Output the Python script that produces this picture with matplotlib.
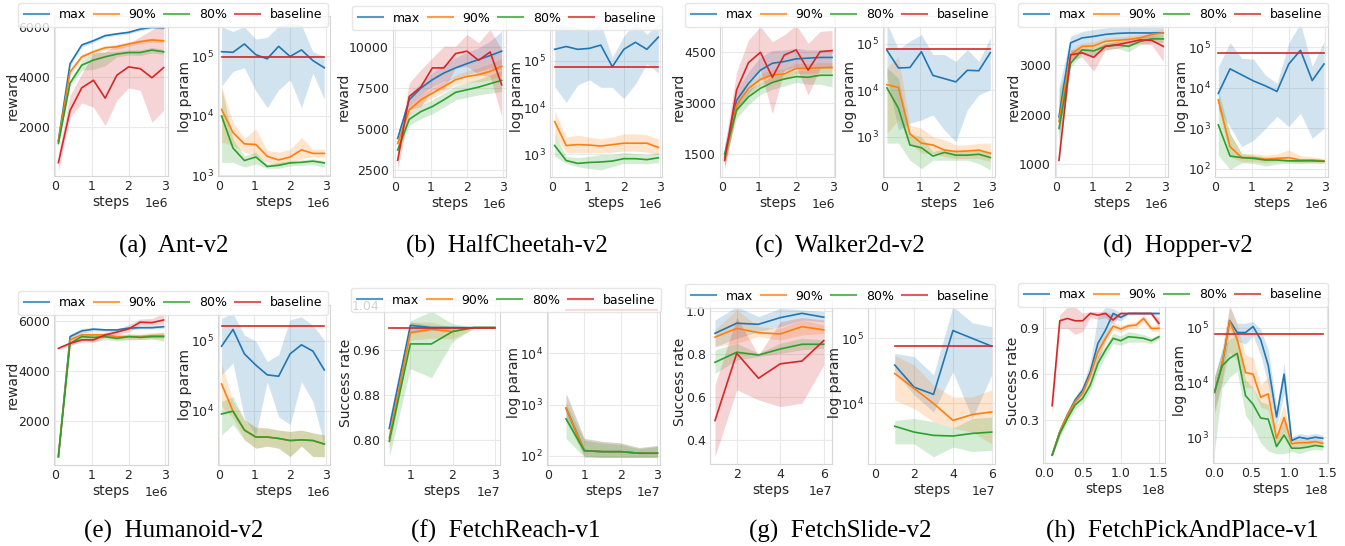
import matplotlib
matplotlib.use("Agg")
import matplotlib.pyplot as plt
import numpy as np
from matplotlib.ticker import NullLocator, FixedLocator

# ---------------- DATA ----------------
LABELS = ["max", "90%", "80%", "baseline"]
CAPTIONS = ["(a)  Ant-v2", "(b)  HalfCheetah-v2", "(c)  Walker2d-v2", "(d)  Hopper-v2",
            "(e)  Humanoid-v2", "(f)  FetchReach-v1", "(g)  FetchSlide-v2", "(h)  FetchPickAndPlace-v1"]

MUJOCO_X = [0.08, 0.40, 0.72, 1.04, 1.36, 1.68, 2.00, 2.32, 2.64, 2.96]   # x 1e6
REACH_X = [0.5, 1.0, 1.5, 2.0, 2.5, 3.0]                                 # x 1e7
SLIDE_X = [1, 2, 3, 4, 5, 6]                                             # x 1e7
PICK_X_REW = [0.1, 0.2, 0.3, 0.4, 0.5, 0.6, 0.7, 0.8, 0.9, 1.0, 1.1, 1.2, 1.3, 1.4, 1.5]  # x 1e8
PICK_X_PAR = [0.01, 0.11, 0.21, 0.31, 0.42, 0.52, 0.62, 0.72, 0.83, 0.93, 1.03, 1.13, 1.24, 1.34, 1.44]

# each series: [mean, lower, upper]; "par" series are log10(parameters)
ant_rew_max = [[1470, 4530, 5270, 5440, 5640, 5710, 5770, 5900, 5970, 5950],
               [1390, 4430, 5190, 5370, 5580, 5650, 5710, 5840, 5920, 5900],
               [1550, 4630, 5350, 5510, 5700, 5770, 5830, 5960, 6020, 6000]]
ant_rew_90 = [[1450, 4200, 4800, 5000, 5160, 5200, 5310, 5400, 5470, 5430],
              [1370, 4100, 4700, 4900, 5080, 5100, 5220, 5320, 5380, 5350],
              [1530, 4300, 4900, 5100, 5240, 5300, 5400, 5480, 5550, 5510]]
ant_rew_80 = [[1360, 3760, 4470, 4670, 4800, 4910, 4970, 4970, 5070, 5000],
              [1280, 3650, 4270, 4300, 4450, 4800, 4870, 4850, 4950, 4900],
              [1440, 3870, 4650, 4950, 5000, 5020, 5070, 5080, 5170, 5100]]
ant_rew_base = [[600, 2670, 3570, 3870, 3160, 4070, 4400, 4330, 3970, 4370],
                [270, 2400, 2970, 2800, 2070, 3070, 3570, 3470, 2200, 2670],
                [930, 3270, 4130, 4930, 5000, 5270, 5330, 5600, 5870, 6130]]
ant_par_max = [[5.08, 5.07, 5.21, 5.03, 4.96, 5.17, 5.00, 5.11, 4.93, 4.81],
               [4.50, 4.75, 4.81, 4.42, 4.14, 4.44, 4.61, 4.14, 4.72, 4.28],
               [5.50, 5.42, 5.50, 5.29, 5.32, 5.51, 5.56, 5.53, 5.08, 5.00]]
ant_par_90 = [[4.11, 3.72, 3.53, 3.52, 3.32, 3.26, 3.31, 3.43, 3.37, 3.37],
              [3.56, 3.50, 3.39, 3.33, 3.22, 3.17, 3.22, 3.28, 3.31, 3.31],
              [4.50, 3.89, 3.62, 3.78, 3.42, 3.39, 3.44, 3.64, 3.44, 3.44]]
ant_par_80 = [[4.00, 3.46, 3.25, 3.31, 3.15, 3.17, 3.21, 3.22, 3.24, 3.21],
              [3.22, 3.22, 3.14, 3.19, 3.12, 3.12, 3.16, 3.17, 3.18, 3.14],
              [4.47, 3.61, 3.33, 3.39, 3.19, 3.22, 3.25, 3.26, 3.28, 3.25]]
ant_par_base = 4.99

hc_rew_max = [[4450, 6800, 7510, 8020, 8430, 8740, 9000, 9250, 9490, 9760],
              [4140, 6430, 7100, 7610, 7920, 8120, 8330, 8530, 8740, 8630],
              [4760, 7100, 7820, 8430, 8940, 9350, 9690, 9960, 10370, 10980]]
hc_rew_90 = [[4140, 6180, 6800, 7200, 7610, 8020, 8220, 8330, 8530, 8840],
             [3900, 5900, 6500, 6900, 7300, 7700, 7850, 7900, 8000, 8300],
             [4400, 6450, 7100, 7500, 7900, 8300, 8550, 8750, 9000, 9300]]
hc_rew_80 = [[3740, 5610, 6080, 6390, 6800, 7250, 7410, 7570, 7780, 7980],
             [3450, 5250, 5650, 5950, 6350, 6800, 6950, 7100, 7200, 7300],
             [4000, 5950, 6500, 6800, 7200, 7650, 7850, 8050, 8300, 8600]]
hc_rew_base = [[3120, 7000, 7570, 8740, 8740, 9610, 9760, 9200, 9710, 7710],
               [2500, 6180, 6390, 7410, 7410, 8740, 8840, 8330, 8220, 5780],
               [3940, 7820, 8630, 9350, 10060, 10060, 10780, 10270, 11080, 9860]]
hc_par_max = [[5.24, 5.30, 5.24, 5.26, 5.33, 4.87, 5.24, 5.39, 5.24, 5.50],
              [4.44, 4.11, 4.48, 4.59, 4.43, 4.43, 4.19, 4.50, 4.93, 4.74],
              [5.78, 5.74, 5.70, 5.63, 5.78, 5.07, 5.52, 5.81, 5.56, 5.78]]
hc_par_90 = [[3.70, 3.19, 3.21, 3.20, 3.18, 3.21, 3.24, 3.24, 3.24, 3.15],
             [3.41, 3.04, 3.04, 3.04, 3.04, 3.05, 3.07, 3.07, 3.05, 3.00],
             [3.93, 3.37, 3.41, 3.37, 3.33, 3.37, 3.44, 3.44, 3.42, 3.33]]
hc_par_80 = [[3.19, 2.87, 2.81, 2.83, 2.84, 2.86, 2.91, 2.91, 2.89, 2.93],
             [2.96, 2.81, 2.74, 2.70, 2.67, 2.74, 2.81, 2.81, 2.80, 2.83],
             [3.44, 2.96, 2.93, 2.96, 3.00, 3.00, 3.04, 3.02, 3.00, 3.04]]
hc_par_base = 4.87

wk_rew_max = [[1420, 3080, 3570, 3960, 4160, 4210, 4290, 4310, 4330, 4330],
              [1130, 2790, 3280, 3670, 3870, 3910, 4010, 4010, 4060, 4060],
              [1810, 3380, 3910, 4350, 4530, 4550, 4600, 4550, 4550, 4550]]
wk_rew_90 = [[1370, 2940, 3430, 3690, 3820, 3850, 4010, 4010, 4030, 4030],
             [1150, 2750, 3250, 3520, 3650, 3700, 3860, 3870, 3880, 3880],
             [1600, 3130, 3600, 3850, 3980, 4000, 4160, 4150, 4180, 4180]]
wk_rew_80 = [[1520, 2790, 3180, 3430, 3600, 3700, 3770, 3750, 3810, 3810],
             [1300, 2550, 2950, 3250, 3400, 3500, 3600, 3550, 3550, 3470],
             [1750, 3000, 3400, 3600, 3780, 3880, 3950, 3950, 4050, 4100]]
wk_rew_base = [[1320, 3380, 4180, 4480, 3750, 4400, 4550, 3960, 4500, 4530],
               [1080, 2790, 3670, 3960, 2690, 3960, 4060, 3230, 4010, 4060],
               [1720, 3910, 4840, 5230, 4790, 4990, 5280, 4740, 5090, 5120]]
wk_par_max = [[4.86, 4.48, 4.49, 4.83, 4.32, 4.25, 4.18, 4.43, 4.42, 4.81],
              [4.30, 3.14, 3.29, 3.36, 3.47, 3.14, 2.89, 3.58, 3.90, 4.01],
              [5.45, 4.88, 5.06, 5.20, 4.77, 4.77, 4.62, 4.88, 4.62, 5.13]]
wk_par_90 = [[4.12, 4.06, 3.06, 2.86, 2.82, 2.71, 2.68, 2.69, 2.71, 2.64],
             [3.07, 3.36, 2.86, 2.64, 2.64, 2.57, 2.53, 2.53, 2.53, 2.46],
             [4.48, 4.73, 3.25, 3.18, 3.00, 2.93, 2.82, 2.82, 2.86, 2.86]]
wk_par_80 = [[4.05, 3.61, 2.82, 2.76, 2.58, 2.66, 2.60, 2.60, 2.62, 2.55],
             [2.86, 2.86, 2.49, 2.31, 2.49, 2.49, 2.49, 2.49, 2.42, 2.28],
             [4.48, 4.26, 3.07, 3.00, 2.68, 2.75, 2.68, 2.68, 2.71, 2.68]]
wk_par_base = 4.88

hp_rew_max = [[1950, 3440, 3540, 3570, 3610, 3630, 3640, 3640, 3640, 3640],
              [1490, 3170, 3370, 3400, 3470, 3500, 3500, 3540, 3570, 3570],
              [2560, 3570, 3670, 3710, 3740, 3770, 3790, 3790, 3810, 3810]]
hp_rew_90 = [[1860, 3200, 3370, 3380, 3470, 3490, 3510, 3540, 3610, 3640],
             [1600, 3100, 3300, 3300, 3400, 3420, 3440, 3470, 3530, 3560],
             [2300, 3300, 3440, 3460, 3540, 3560, 3580, 3610, 3680, 3720]]
hp_rew_80 = [[1720, 3030, 3300, 3280, 3370, 3400, 3370, 3470, 3520, 3520],
             [1250, 2950, 3220, 3180, 3300, 3330, 3260, 3400, 3440, 3440],
             [2500, 3150, 3380, 3380, 3440, 3470, 3450, 3540, 3600, 3600]]
hp_rew_base = [[1080, 3200, 3240, 3150, 3370, 3400, 3450, 3500, 3490, 3370],
               [1000, 3100, 3150, 2870, 3300, 3330, 3380, 3430, 3400, 3070],
               [1200, 3300, 3330, 3300, 3440, 3470, 3520, 3580, 3580, 3550]]
hp_par_max = [[3.86, 4.47, 4.32, 4.17, 4.05, 3.91, 4.59, 4.93, 4.18, 4.59],
              [3.45, 3.04, 2.54, 2.70, 2.99, 3.29, 3.04, 3.37, 2.75, 2.99],
              [4.53, 5.12, 4.73, 4.71, 4.32, 4.11, 5.11, 5.60, 4.53, 5.15]]
hp_par_90 = [[3.70, 2.54, 2.27, 2.27, 2.23, 2.25, 2.27, 2.21, 2.21, 2.19],
             [3.53, 2.29, 2.17, 2.17, 2.14, 2.17, 2.17, 2.13, 2.14, 2.13],
             [3.78, 2.87, 2.37, 2.37, 2.33, 2.36, 2.46, 2.32, 2.29, 2.25]]
hp_par_80 = [[3.08, 2.31, 2.27, 2.25, 2.21, 2.21, 2.19, 2.19, 2.19, 2.18],
             [2.33, 1.98, 2.14, 2.13, 2.06, 2.11, 2.13, 2.13, 2.14, 2.13],
             [3.95, 2.87, 2.37, 2.33, 2.29, 2.29, 2.25, 2.25, 2.25, 2.22]]
hp_par_base = 4.86

hm_rew_max = [[555, 5370, 5600, 5670, 5640, 5640, 5710, 5730, 5730, 5770],
              [500, 5250, 5500, 5600, 5580, 5580, 5650, 5680, 5680, 5700],
              [610, 5480, 5700, 5740, 5700, 5700, 5770, 5790, 5790, 5840]]
hm_rew_90 = [[555, 5240, 5440, 5440, 5440, 5370, 5370, 5370, 5410, 5410],
             [500, 5100, 5330, 5330, 5330, 5250, 5250, 5250, 5280, 5280],
             [610, 5370, 5550, 5550, 5550, 5480, 5480, 5480, 5540, 5540]]
hm_rew_80 = [[555, 5100, 5370, 5340, 5370, 5300, 5370, 5340, 5370, 5370],
             [500, 4980, 5250, 5150, 5250, 5200, 5250, 5250, 5280, 5180],
             [610, 5230, 5480, 5460, 5480, 5400, 5480, 5450, 5480, 5550]]
hm_rew_base = [[4900, 5100, 5240, 5240, 5440, 5550, 5680, 5950, 5930, 6040],
               [4850, 5030, 5160, 5150, 5340, 5450, 5550, 5820, 5800, 5870],
               [4950, 5170, 5320, 5330, 5540, 5650, 5850, 6080, 6100, 6310]]
hm_par_max = [[4.92, 5.16, 4.81, 4.65, 4.51, 4.49, 4.81, 4.94, 4.85, 4.58],
              [4.51, 4.68, 3.89, 3.65, 4.41, 3.91, 3.80, 4.41, 4.13, 3.51],
              [5.32, 5.39, 5.08, 4.99, 4.70, 4.80, 5.30, 5.34, 5.22, 5.01]]
hm_par_90 = [[4.38, 3.99, 3.72, 3.62, 3.62, 3.60, 3.57, 3.58, 3.57, 3.52],
             [4.06, 3.89, 3.58, 3.46, 3.49, 3.46, 3.34, 3.49, 3.34, 3.34],
             [4.68, 4.13, 3.87, 3.77, 3.75, 3.72, 3.70, 3.72, 3.68, 3.65]]
hm_par_80 = [[3.95, 3.99, 3.72, 3.62, 3.62, 3.60, 3.57, 3.58, 3.57, 3.52],
             [3.65, 3.80, 3.58, 3.46, 3.49, 3.46, 3.34, 3.49, 3.34, 3.34],
             [4.13, 4.20, 3.87, 3.75, 3.75, 3.72, 3.70, 3.72, 3.68, 3.65]]
hm_par_base = 5.21

fr_rew_max = [[0.821, 1.004, 1.000, 1.000, 1.000, 1.000],
              [0.800, 0.990, 0.995, 0.997, 1.000, 1.000],
              [0.840, 1.010, 1.004, 1.003, 1.000, 1.000]]
fr_rew_90 = [[0.804, 0.991, 0.997, 0.993, 1.000, 1.000],
             [0.785, 0.978, 0.981, 0.980, 0.998, 1.000],
             [0.827, 1.010, 1.010, 1.000, 1.000, 1.000]]
fr_rew_80 = [[0.798, 0.971, 0.971, 0.993, 1.000, 1.000],
             [0.770, 0.927, 0.911, 0.975, 0.999, 1.000],
             [0.815, 1.012, 1.029, 1.007, 1.000, 1.000]]
fr_rew_base = [[1.0, 1.0, 1.0, 1.0, 1.0, 1.0],
               [1.0, 1.0, 1.0, 1.0, 1.0, 1.0],
               [1.0, 1.0, 1.0, 1.0, 1.0, 1.0]]
fr_par_max = [[2.93, 2.10, 2.08, 2.08, 2.05, 2.05],
              [2.70, 1.99, 1.97, 1.97, 1.97, 1.97],
              [3.22, 2.34, 2.28, 2.25, 2.16, 2.20]]
fr_par_90 = [[2.93, 2.10, 2.08, 2.08, 2.05, 2.05],
             [2.70, 1.99, 1.97, 1.97, 1.97, 1.97],
             [3.22, 2.34, 2.28, 2.25, 2.16, 2.20]]
fr_par_80 = [[2.72, 2.10, 2.08, 2.08, 2.05, 2.05],
             [2.34, 1.97, 1.97, 1.97, 1.97, 1.97],
             [3.03, 2.30, 2.25, 2.22, 2.14, 2.18]]
fr_par_base = 4.84

fs_rew_max = [[0.896, 0.943, 0.938, 0.969, 0.989, 0.971],
              [0.834, 0.873, 0.904, 0.927, 0.958, 0.950],
              [0.958, 1.020, 0.974, 1.012, 1.005, 0.997]]
fs_rew_90 = [[0.878, 0.919, 0.899, 0.893, 0.927, 0.912],
             [0.834, 0.850, 0.881, 0.865, 0.888, 0.896],
             [0.912, 1.005, 0.927, 0.919, 0.958, 0.935]]
fs_rew_80 = [[0.761, 0.808, 0.795, 0.823, 0.845, 0.845],
             [0.710, 0.772, 0.788, 0.803, 0.819, 0.826],
             [0.819, 0.850, 0.803, 0.850, 0.873, 0.865]]
fs_rew_base = [[0.490, 0.803, 0.687, 0.754, 0.767, 0.862],
               [0.323, 0.633, 0.586, 0.555, 0.571, 0.749],
               [0.656, 0.970, 0.795, 0.950, 0.969, 0.958]]
fs_par_max = [[4.59, 4.25, 4.14, 5.12, 5.00, 4.88],
              [4.49, 4.13, 3.87, 4.49, 3.77, 4.44],
              [4.77, 4.72, 4.44, 5.49, 5.24, 5.18]]
fs_par_90 = [[4.46, 4.23, 4.00, 3.74, 3.83, 3.87],
             [4.05, 3.92, 3.72, 3.62, 3.56, 3.38],
             [4.74, 4.59, 4.28, 4.10, 4.10, 4.21]]
fs_par_80 = [[3.65, 3.56, 3.51, 3.50, 3.54, 3.56],
             [3.38, 3.38, 3.18, 3.33, 3.26, 3.28],
             [3.74, 3.77, 3.72, 3.62, 3.77, 3.79]]
fs_par_base = 4.88

pp_rew_max = [[0.071, 0.224, 0.333, 0.431, 0.496, 0.616, 0.802, 0.889, 0.998, 0.972, 0.998, 0.998, 0.998, 0.998, 0.998],
              [0.060, 0.200, 0.310, 0.410, 0.470, 0.570, 0.700, 0.820, 0.960, 0.950, 0.990, 0.990, 0.990, 0.990, 0.990],
              [0.080, 0.250, 0.360, 0.450, 0.530, 0.680, 0.980, 1.040, 1.030, 1.000, 1.005, 1.005, 1.005, 1.005, 1.005]]
pp_rew_90 = [[0.071, 0.224, 0.333, 0.420, 0.475, 0.595, 0.747, 0.835, 0.915, 0.896, 0.917, 0.922, 0.965, 0.900, 0.900],
             [0.060, 0.200, 0.310, 0.400, 0.450, 0.550, 0.690, 0.800, 0.890, 0.875, 0.900, 0.900, 0.940, 0.880, 0.880],
             [0.080, 0.250, 0.360, 0.440, 0.500, 0.640, 0.800, 0.870, 0.940, 0.920, 0.935, 0.945, 0.990, 0.920, 0.920]]
pp_rew_80 = [[0.071, 0.213, 0.311, 0.398, 0.442, 0.529, 0.671, 0.758, 0.835, 0.819, 0.845, 0.841, 0.835, 0.819, 0.845],
             [0.060, 0.190, 0.280, 0.370, 0.410, 0.490, 0.620, 0.720, 0.800, 0.790, 0.810, 0.810, 0.810, 0.800, 0.830],
             [0.080, 0.240, 0.340, 0.420, 0.470, 0.560, 0.720, 0.790, 0.870, 0.850, 0.880, 0.870, 0.860, 0.840, 0.860]]
pp_rew_base = [[0.394, 0.950, 0.965, 0.950, 0.950, 0.998, 0.987, 0.998, 0.955, 0.998, 0.998, 0.998, 0.998, 0.998, 0.933],
               [0.330, 0.900, 0.900, 0.860, 0.880, 0.970, 0.960, 0.970, 0.930, 0.990, 0.990, 0.990, 0.990, 0.990, 0.900],
               [0.450, 0.990, 1.040, 1.040, 1.000, 1.010, 1.010, 1.010, 0.990, 1.005, 1.005, 1.005, 1.005, 1.005, 0.970]]
pp_par_max = [[3.82, 4.32, 5.13, 4.91, 4.91, 5.02, 4.78, 4.31, 3.37, 4.15, 2.94, 3.00, 2.97, 3.00, 2.98],
              [3.50, 4.00, 4.95, 4.75, 4.70, 4.85, 4.50, 3.95, 3.20, 3.80, 2.88, 2.93, 2.90, 2.93, 2.92],
              [4.10, 4.60, 5.38, 5.08, 5.08, 5.11, 4.97, 4.60, 3.55, 4.35, 3.00, 3.07, 3.04, 3.07, 3.04]]
pp_par_90 = [[3.82, 4.32, 5.12, 4.78, 4.18, 4.15, 3.73, 3.79, 2.98, 3.36, 2.88, 2.90, 2.90, 2.92, 2.89],
             [3.40, 4.00, 4.55, 4.40, 3.90, 3.90, 3.55, 3.50, 2.85, 3.10, 2.82, 2.84, 2.84, 2.86, 2.83],
             [4.10, 4.55, 5.42, 5.05, 4.50, 4.45, 3.95, 4.10, 3.20, 3.60, 2.95, 2.97, 2.96, 2.98, 2.95]]
pp_par_80 = [[3.82, 4.30, 4.44, 4.53, 3.76, 3.60, 3.35, 3.33, 2.83, 3.04, 2.80, 2.80, 2.82, 2.85, 2.83],
             [2.75, 3.90, 4.10, 4.20, 3.40, 3.20, 2.90, 2.75, 2.70, 2.70, 2.74, 2.70, 2.75, 2.78, 2.76],
             [4.10, 4.60, 4.80, 4.85, 4.05, 3.90, 3.65, 3.60, 3.00, 3.30, 2.86, 2.90, 2.90, 2.92, 2.90]]
pp_par_base = 4.88

# ---------------- STYLE / LAYOUT ----------------
COLORS = ["#1f77b4", "#ff7f0e", "#2ca02c", "#d62728"]
W, H = 1345, 546
fig = plt.figure(figsize=(W / 100, H / 100), dpi=100)
plt.rcParams["font.family"] = ["DejaVu Sans"]
TXT = "#262626"


def add_ax(l, r, top, bot):
    return fig.add_axes([l / W, 1 - bot / H, (r - l) / W, (bot - top) / H])


def style(ax):
    ax.set_facecolor("white")
    for s in ax.spines.values():
        s.set_color("#d6d6d6")
        s.set_linewidth(0.8)
    ax.grid(True, color="#e9e9e9", lw=0.8)
    ax.set_axisbelow(True)
    ax.tick_params(length=0, pad=3, labelsize=9, colors=TXT)
    ax.xaxis.get_offset_text().set_fontsize(9)
    ax.xaxis.get_offset_text().set_color(TXT)


def draw_rew(ax, x, scale, series):
    xs = np.array(x) * scale
    lines = []
    for (m, lo, hi), c in zip(series, COLORS):
        ax.fill_between(xs, lo, hi, color=c, alpha=0.2, lw=0)
        ln, = ax.plot(xs, m, color=c, lw=1.2)
        lines.append(ln)
    return lines


def draw_par(ax, x, scale, series, base):
    xs = np.array(x) * scale
    for (m, lo, hi), c in zip(series, COLORS[:3]):
        ax.fill_between(xs, 10 ** np.array(lo), 10 ** np.array(hi), color=c, alpha=0.2, lw=0)
        ax.plot(xs, 10 ** np.array(m), color=c, lw=1.2)
    ax.plot([xs[0], xs[-1]], [10 ** base, 10 ** base], color=COLORS[3], lw=1.2)
    ax.set_yscale("log")


PANELS = [
    dict(xr=MUJOCO_X, xp=MUJOCO_X, sc=1e6, rew=[ant_rew_max, ant_rew_90, ant_rew_80, ant_rew_base],
         par=[ant_par_max, ant_par_90, ant_par_80], base=ant_par_base, yl="reward",
         L=(54, 168), R=(218, 330), tb=(16, 176), ylimL=(70, 6420), ytL=[2000, 4000, 6000],
         ylimR=(2.99, 5.68), ytR=[3, 4, 5], xlimL=(-0.04, 3.08), xlimR=(-0.02, 3.12),
         xtL=[0, 1, 2, 3], xtR=[0, 1, 2, 3], leg=(173, 15), cap=(174, 246)),
    dict(xr=MUJOCO_X, xp=MUJOCO_X, sc=1e6, rew=[hc_rew_max, hc_rew_90, hc_rew_80, hc_rew_base],
         par=[hc_par_max, hc_par_90, hc_par_80], base=hc_par_base, yl="reward",
         L=(393, 506), R=(550, 662), tb=(16, 177), ylimL=(2100, 11900), ytL=[2500, 5000, 7500, 10000],
         ylimR=(2.52, 5.95), ytR=[3, 4, 5], xlimL=(-0.05, 3.08), xlimR=(-0.05, 3.06),
         xtL=[0, 1, 2, 3], xtR=[0, 1, 2, 3], leg=(507, 18), cap=(507, 246)),
    dict(xr=MUJOCO_X, xp=MUJOCO_X, sc=1e6, rew=[wk_rew_max, wk_rew_90, wk_rew_80, wk_rew_base],
         par=[wk_par_max, wk_par_90, wk_par_80], base=wk_par_base, yl="reward",
         L=(720, 835), R=(883, 995), tb=(16, 177), ylimL=(840, 5540), ytL=[1500, 3000, 4500],
         ylimR=(2.13, 5.6), ytR=[3, 4, 5], xlimL=(-0.045, 3.04), xlimR=(-0.03, 3.09),
         xtL=[0, 1, 2, 3], xtR=[0, 1, 2, 3], leg=(840, 15), cap=(840, 246)),
    dict(xr=MUJOCO_X, xp=MUJOCO_X, sc=1e6, rew=[hp_rew_max, hp_rew_90, hp_rew_80, hp_rew_base],
         par=[hp_par_max, hp_par_90, hp_par_80], base=hp_par_base, yl="reward",
         L=(1055, 1168), R=(1215, 1328), tb=(16, 177), ylimL=(745, 3980), ytL=[1000, 2000, 3000],
         ylimR=(1.79, 5.78), ytR=[2, 3, 4, 5], xlimL=(-0.03, 3.09), xlimR=(-0.01, 3.07),
         xtL=[0, 1, 2, 3], xtR=[0, 1, 2, 3], leg=(1173, 15), cap=(1178, 246)),
    dict(xr=MUJOCO_X, xp=MUJOCO_X, sc=1e6, rew=[hm_rew_max, hm_rew_90, hm_rew_80, hm_rew_base],
         par=[hm_par_max, hm_par_90, hm_par_80], base=hm_par_base, yl="reward",
         L=(54, 168), R=(218, 330), tb=(305, 465), ylimL=(220, 6640), ytL=[2000, 4000, 6000],
         ylimR=(3.22, 5.51), ytR=[4, 5], xlimL=(-0.04, 3.08), xlimR=(-0.02, 3.12),
         xtL=[0, 1, 2, 3], xtR=[0, 1, 2, 3], leg=(173, 303), cap=(174, 531)),
    dict(xr=REACH_X, xp=REACH_X, sc=1e7, rew=[fr_rew_max, fr_rew_90, fr_rew_80, fr_rew_base],
         par=[fr_par_max, fr_par_90, fr_par_80], base=fr_par_base, yl="Success rate",
         L=(384, 500), R=(547, 660), tb=(300, 465), ylimL=(0.756, 1.049), ytL=[0.80, 0.88, 0.96, 1.04],
         ylimR=(1.82, 5.04), ytR=[2, 3, 4], xlimL=(0.375, 3.125), xlimR=(-0.02, 3.07),
         xtL=[1, 2, 3], xtR=[0, 1, 2, 3], leg=(506, 300), cap=(506, 531)),
    dict(xr=SLIDE_X, xp=SLIDE_X, sc=1e7, rew=[fs_rew_max, fs_rew_90, fs_rew_80, fs_rew_base],
         par=[fs_par_max, fs_par_90, fs_par_80], base=fs_par_base, yl="Success rate",
         L=(710, 832), R=(868, 995), tb=(300, 464), ylimL=(0.288, 1.051), ytL=[0.4, 0.6, 0.8, 1.0],
         ylimR=(3.07, 5.59), ytR=[4, 5], xlimL=(0.77, 6.38), xlimR=(-0.38, 6.17),
         xtL=[2, 4, 6], xtR=[0, 2, 4, 6], leg=(840, 296), cap=(840, 531)),
    dict(xr=PICK_X_REW, xp=PICK_X_PAR, sc=1e8, rew=[pp_rew_max, pp_rew_90, pp_rew_80, pp_rew_base],
         par=[pp_par_max, pp_par_90, pp_par_80], base=pp_par_base, yl="Success rate",
         L=(1043, 1165), R=(1213, 1328), tb=(298, 463), ylimL=(0.019, 1.099), ytL=[0.3, 0.6, 0.9],
         ylimR=(2.53, 5.54), ytR=[3, 4, 5], xlimL=(-0.02, 1.58), xlimR=(-0.01, 1.51),
         xtL=[0.0, 0.5, 1.0, 1.5], xtR=[0.0, 0.5, 1.0, 1.5], leg=(1173, 295), cap=(1182, 531)),
]

for p, cap in zip(PANELS, CAPTIONS):
    top, bot = p["tb"]
    axL = add_ax(p["L"][0], p["L"][1], top, bot)
    axR = add_ax(p["R"][0], p["R"][1], top, bot)
    for ax in (axL, axR):
        style(ax)
    lines = draw_rew(axL, p["xr"], p["sc"], p["rew"])
    draw_par(axR, p["xp"], p["sc"], p["par"], p["base"])
    sc = p["sc"]
    axL.set_xlim(p["xlimL"][0] * sc, p["xlimL"][1] * sc)
    axR.set_xlim(p["xlimR"][0] * sc, p["xlimR"][1] * sc)
    axL.xaxis.set_major_locator(FixedLocator([v * sc for v in p["xtL"]]))
    axR.xaxis.set_major_locator(FixedLocator([v * sc for v in p["xtR"]]))
    axL.set_ylim(*p["ylimL"])
    axL.yaxis.set_major_locator(FixedLocator(p["ytL"]))
    axR.set_ylim(10 ** p["ylimR"][0], 10 ** p["ylimR"][1])
    axR.yaxis.set_major_locator(FixedLocator([10.0 ** e for e in p["ytR"]]))
    axR.yaxis.set_minor_locator(NullLocator())
    axL.set_ylabel(p["yl"], fontsize=10, color=TXT, labelpad=-1)
    axR.set_ylabel("log param", fontsize=10, color=TXT, labelpad=-1)
    for ax in (axL, axR):
        ax.set_xlabel("steps", fontsize=10, color=TXT, labelpad=1)
    leg = fig.legend(lines, LABELS, loc="center", ncol=4, fontsize=9,
                     bbox_to_anchor=(p["leg"][0] / W, 1 - p["leg"][1] / H),
                     handlelength=2.0, handletextpad=0.8, columnspacing=0.6,
                     borderpad=0.45, borderaxespad=0, framealpha=0.8,
                     edgecolor="#e0e0e0", fancybox=True)
    for h in leg.legend_handles:
        h.set_alpha(0.75)
        h.set_linewidth(1.5)
    fig.text(p["cap"][0] / W, 1 - p["cap"][1] / H, cap, ha="center", va="center",
             fontsize=18, family="Liberation Serif", color="black")

fig.savefig("out.png", dpi=100, facecolor="white")
